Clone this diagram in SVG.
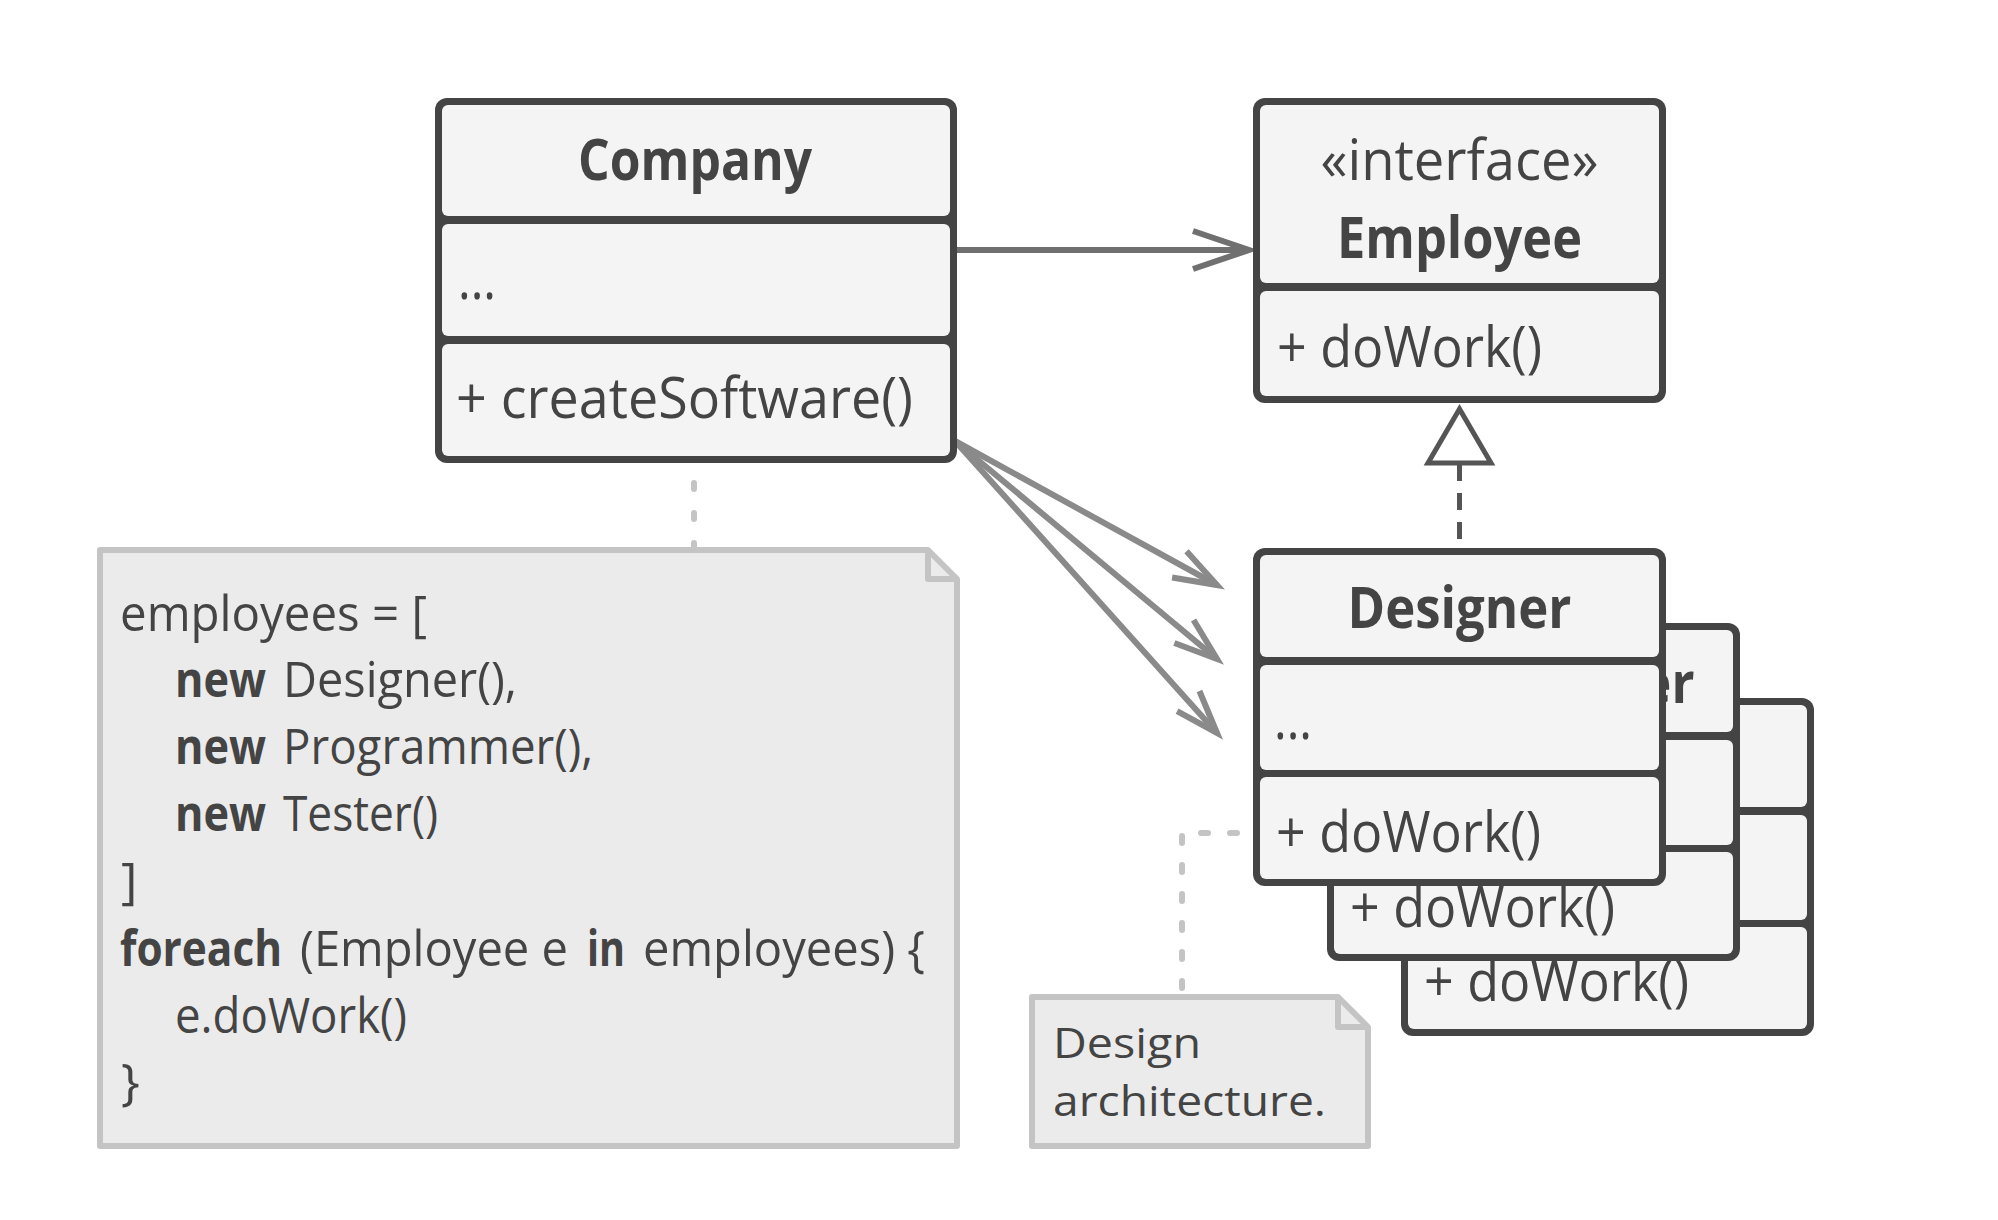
<svg xmlns="http://www.w3.org/2000/svg" width="1998" height="1220" viewBox="0 0 1998 1220">
<defs>
<style>
.frame{fill:#444444}
.cmp{fill:#f4f4f4}
.t{font-family:"Open Sans","Noto Sans","Liberation Sans",sans-serif;fill:#444444}
.mem{font-size:56px}
.ttl{font-size:58px;font-weight:700}
.note{fill:#ebebeb;stroke:#c4c4c4;stroke-width:6;stroke-linejoin:round}
.fold{fill:none;stroke:#c4c4c4;stroke-width:6;stroke-linejoin:round}
.code{font-size:50px}
.nt{font-size:42px}
.b{font-weight:700}
.assoc{fill:none;stroke:#8a8a8a;stroke-width:6}
.assoc2{fill:none;stroke:#707070;stroke-width:6}
.link{fill:none;stroke:#c4c4c4;stroke-width:6;stroke-linecap:round;stroke-dasharray:6 24}
.real{fill:none;stroke:#555555;stroke-width:5;stroke-dasharray:17 12}
</style>
<marker id="openS" markerUnits="userSpaceOnUse" markerWidth="60" markerHeight="40" viewBox="-50 -20 60 40" refX="0" refY="0" orient="auto">
<path d="M-43,-15 L0,0 L-43,15" fill="none" stroke="#8a8a8a" stroke-width="6"/>
</marker>
<marker id="openL" markerUnits="userSpaceOnUse" markerWidth="80" markerHeight="56" viewBox="-66 -28 80 56" refX="0" refY="0" orient="auto">
<path d="M-56,-19 L0,0 L-56,19" fill="none" stroke="#707070" stroke-width="6"/>
</marker>
</defs>
<rect width="1998" height="1220" fill="#ffffff"/>

<g id="connectors">
<line class="assoc2" x1="957" y1="250" x2="1249" y2="250" marker-end="url(#openL)"/>
<line class="assoc" x1="955" y1="441" x2="1217" y2="585" marker-end="url(#openS)"/>
<line class="assoc" x1="955" y1="441" x2="1217" y2="659" marker-end="url(#openS)"/>
<line class="assoc" x1="955" y1="441" x2="1217" y2="733" marker-end="url(#openS)"/>
<line class="real" x1="1459.5" y1="464" x2="1459.5" y2="548"/>
<polygon points="1459.5,409 1428,463 1491,463" fill="#ffffff" stroke="#555555" stroke-width="5" stroke-linejoin="miter"/>
<path class="link" d="M694,459 V549" stroke-dashoffset="6"/>
<path class="link" d="M1253,833 H1182 V997" style="stroke-dasharray:7 22" stroke-dashoffset="13"/>
</g>

<g id="note-code">
<path class="note" d="M100,550 H928 L957,579 V1146 H100 Z"/>
<path class="fold" d="M928,550 V579 H957"/>
<text class="t code" x="120" y="631" textLength="307" lengthAdjust="spacingAndGlyphs">employees = [</text>
<text class="t code" y="697"><tspan class="b" x="175" textLength="91" lengthAdjust="spacingAndGlyphs">new</tspan><tspan x="283" textLength="234" lengthAdjust="spacingAndGlyphs">Designer(),</tspan></text>
<text class="t code" y="764"><tspan class="b" x="175" textLength="91" lengthAdjust="spacingAndGlyphs">new</tspan><tspan x="283" textLength="310" lengthAdjust="spacingAndGlyphs">Programmer(),</tspan></text>
<text class="t code" y="831"><tspan class="b" x="175" textLength="91" lengthAdjust="spacingAndGlyphs">new</tspan><tspan x="283" textLength="155" lengthAdjust="spacingAndGlyphs">Tester()</tspan></text>
<text class="t code" x="121" y="898">]</text>
<text class="t code" y="966"><tspan class="b" x="120" textLength="162" lengthAdjust="spacingAndGlyphs">foreach</tspan><tspan x="300" textLength="268" lengthAdjust="spacingAndGlyphs">(Employee e</tspan><tspan class="b" x="587" textLength="38" lengthAdjust="spacingAndGlyphs">in</tspan><tspan x="643" textLength="282" lengthAdjust="spacingAndGlyphs">employees) {</tspan></text>
<text class="t code" x="175" y="1033" textLength="232" lengthAdjust="spacingAndGlyphs">e.doWork()</text>
<text class="t code" x="121" y="1099">}</text>
</g>

<g id="note-design">
<path class="note" d="M1032,997 H1338 L1368,1027 V1146 H1032 Z"/>
<path class="fold" d="M1338,997 V1027 H1368"/>
<text class="t nt"><tspan x="1053" y="1058" textLength="148" lengthAdjust="spacingAndGlyphs">Design</tspan><tspan x="1053" y="1116" textLength="273" lengthAdjust="spacingAndGlyphs">architecture.</tspan></text>
</g>

<g id="company">
<rect class="frame" x="435" y="98" width="522" height="365" rx="12"/>
<rect class="cmp" x="442" y="105" width="508" height="111" rx="6"/>
<rect class="cmp" x="442" y="224" width="508" height="112" rx="6"/>
<rect class="cmp" x="442" y="344" width="508" height="112" rx="6"/>
<text class="t ttl" x="695" y="180" text-anchor="middle" textLength="234" lengthAdjust="spacingAndGlyphs">Company</text>
<text class="t mem" x="458" y="299" textLength="38" lengthAdjust="spacingAndGlyphs">...</text>
<text class="t mem" x="456" y="418" textLength="457" lengthAdjust="spacingAndGlyphs">+ createSoftware()</text>
</g>

<g id="employee">
<rect class="frame" x="1253" y="98" width="413" height="305" rx="12"/>
<rect class="cmp" x="1260" y="105" width="399" height="178" rx="6"/>
<rect class="cmp" x="1260" y="291" width="399" height="105" rx="6"/>
<text class="t mem" x="1459.5" y="180" text-anchor="middle" textLength="278" lengthAdjust="spacingAndGlyphs">«interface»</text>
<text class="t ttl" x="1459.5" y="258" text-anchor="middle" textLength="245" lengthAdjust="spacingAndGlyphs">Employee</text>
<text class="t mem" x="1277" y="367" textLength="265" lengthAdjust="spacingAndGlyphs">+ doWork()</text>
</g>

<g id="tester">
<rect class="frame" x="1401" y="698" width="413" height="338" rx="12"/>
<rect class="cmp" x="1408" y="705" width="399" height="102" rx="6"/>
<rect class="cmp" x="1408" y="815" width="399" height="105" rx="6"/>
<rect class="cmp" x="1408" y="927" width="399" height="102" rx="6"/>
<text class="t mem" x="1424" y="1001" textLength="265" lengthAdjust="spacingAndGlyphs">+ doWork()</text>
</g>

<g id="programmer">
<rect class="frame" x="1327" y="623" width="413" height="338" rx="12"/>
<rect class="cmp" x="1334" y="630" width="399" height="102" rx="6"/>
<rect class="cmp" x="1334" y="740" width="399" height="105" rx="6"/>
<rect class="cmp" x="1334" y="852" width="399" height="102" rx="6"/>
<text class="t ttl" x="1533.5" y="703" text-anchor="middle" textLength="322" lengthAdjust="spacingAndGlyphs">Programmer</text>
<text class="t mem" x="1350" y="927" textLength="265" lengthAdjust="spacingAndGlyphs">+ doWork()</text>
</g>

<g id="designer">
<rect class="frame" x="1253" y="548" width="413" height="338" rx="12"/>
<rect class="cmp" x="1260" y="555" width="399" height="102" rx="6"/>
<rect class="cmp" x="1260" y="665" width="399" height="105" rx="6"/>
<rect class="cmp" x="1260" y="777" width="399" height="102" rx="6"/>
<text class="t ttl" x="1459.5" y="628" text-anchor="middle" textLength="224" lengthAdjust="spacingAndGlyphs">Designer</text>
<text class="t mem" x="1274" y="739" textLength="38" lengthAdjust="spacingAndGlyphs">...</text>
<text class="t mem" x="1276" y="852" textLength="265" lengthAdjust="spacingAndGlyphs">+ doWork()</text>
</g>
</svg>
